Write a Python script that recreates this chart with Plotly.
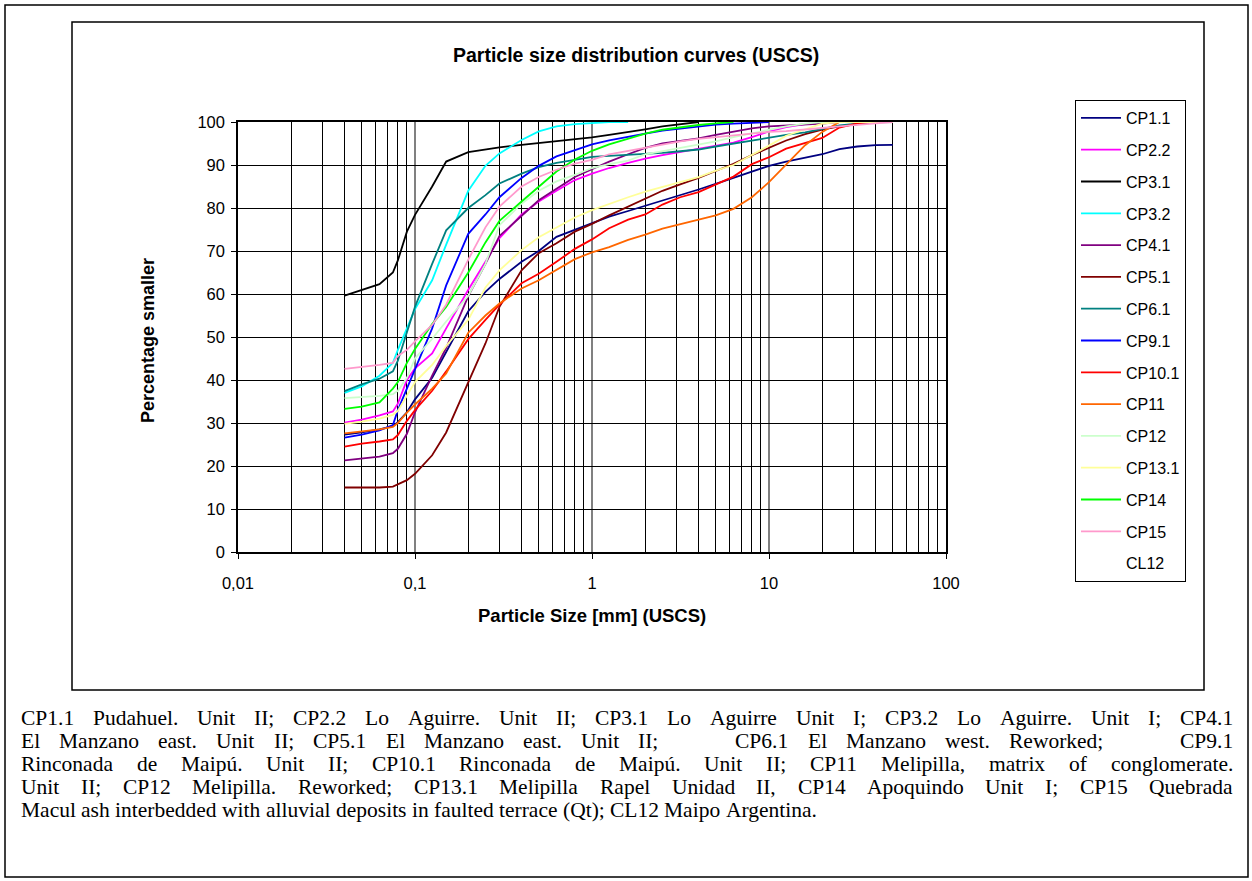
import plotly.graph_objects as go

# ---------------- data ----------------
sizes_mm = [0.04, 0.05, 0.063, 0.075, 0.08, 0.09, 0.1, 0.125, 0.15, 0.2, 0.25, 0.3, 0.4, 0.5,
            0.63, 0.8, 1, 1.25, 1.6, 2, 2.5, 3.15, 4, 5, 6.3, 8, 10, 12.5, 16, 20, 25, 31.5, 40, 50]

N = None
CP1_1 = [27.3, 27.8, 28.5, 29.3, 30.2, 32.5, 35.5, 40.5, 46.5, 56, 60.5, 63.5, 67.5, 70, 73.3, 75, 76.5,
         78, 79.3, 80.5, 81.6, 83, 84.3, 85.6, 87, 88.6, 89.8, 90.8, 91.7, 92.5, 93.7, 94.3, 94.6, 94.7]
CP2_2 = [30.1, 30.8, 31.8, 32.7, 34.5, 40, 42.7, 46.2, 52, 61, 67.5, 73, 78.5, 81.5, 84, 86.5, 88,
         89.3, 90.5, 91.5, 92.3, 93, 93.8, 94.5, 95.2, 96.5, 97.8, 98.8, 99.5, 99.9, 100, N, N, N]
CP3_1 = [59.6, 61, 62.3, 65, 67.8, 74.5, 78.4, 85, 90.8, 93, 93.7, 94.1, 94.7, 95.1, 95.4, 95.9, 96.4,
         97, 97.6, 98.3, 99, 99.5, 100, N, N, N, N, N, N, N, N, N, N, N]
CP3_2 = [37, 38.5, 41, 44, 47, 52, 56.5, 63.2, 71.5, 84, 89.8, 92.7, 95.8, 97.8, 99, 99.5, 99.8,
         100, 100, N, N, N, N, N, N, N, N, N, N, N, N, N, N, N]
CP4_1 = [21.3, 21.8, 22.2, 23, 24, 27.5, 32.5, 41, 47.5, 59.5, 67, 73.5, 78.3, 81.8, 84.5, 87.2, 89,
         90.8, 92.5, 94, 95, 95.6, 96.2, 97, 97.8, 98.5, 99, 99.2, 99.3, 99.6, 100, N, N, N]
CP5_1 = [15, 15, 15, 15.2, 15.7, 16.7, 18.2, 22.5, 27.8, 39.5, 48.5, 57, 65.5, 69.5, 71.8, 74.5, 76.3,
         78.3, 80.3, 82.2, 84, 85.5, 87, 88.6, 90.3, 92.3, 94, 95.7, 97.2, 98.2, 99, 99.5, 100, N]
CP6_1 = [37.4, 39, 40.3, 42, 44.5, 51, 57, 67, 74.8, 80, 83, 85.7, 88, 89.5, 90.5, 91.2, 91.9,
         92.1, 92.3, 92.5, 92.8, 93.2, 93.6, 94.3, 95, 95.8, 96.4, 97, 97.6, 98.4, 99.2, 99.6, 99.9, 100]
CP9_1 = [26.6, 27.3, 28.3, 29.5, 33, 38, 42.3, 52, 62, 74, 78.5, 82.5, 87, 89.8, 92, 93.5, 94.8,
         95.7, 96.6, 97.3, 98, 98.5, 99, 99.4, 99.6, 99.8, 100, N, N, N, N, N, N, N]
CP10_1 = [24.5, 25.2, 25.7, 26.2, 27.2, 30.5, 33, 37.5, 42, 49.5, 54, 57.5, 62.5, 64.7, 67.5, 70.5, 72.7,
          75.3, 77.3, 78.5, 80.8, 82.5, 83.7, 85.5, 87.3, 90.2, 91.8, 93.8, 95.2, 96.3, 98.7, 99.7, 100, N]
CP11 = [27.6, 28, 28.5, 29.1, 30, 32.4, 34.3, 38, 41.5, 51, 55, 57.8, 61.3, 63.2, 65.7, 68.1, 69.7,
        70.9, 72.6, 73.8, 75.2, 76.2, 77.3, 78.3, 79.8, 82.5, 86, 90, 94.6, 97.7, 100, N, N, N]
CP12 = [35.8, 36, 36.3, 36.7, 37.5, 40.5, 45, 49.6, 53.6, 59.6, 67, 76, 81, 84, 86.2, 87.7, 89.3,
        90.2, 91, 92.5, 93.2, 94, 94.8, 95.5, 96.5, 97.4, 98.2, 99, 99.6, 100, 100, 100, 100, 100]
CP13_1 = [29.8, 30.3, 31, 31.9, 32.8, 36.5, 39.5, 43.5, 47.9, 54, 61.5, 65.5, 70.2, 73.2, 75.5, 77.8, 79.5,
          81, 82.5, 83.8, 84.8, 86, 87.2, 88.7, 90, 92.3, 94.5, 96.8, 98.3, 99.6, 100, 100, 100, 100]
CP14 = [33.3, 33.8, 34.8, 38, 39.5, 44, 47.2, 53, 57, 65, 72, 77, 81.5, 85, 88.5, 91.3, 93.3,
        94.8, 96.2, 97.3, 98.2, 98.8, 99.3, 99.7, 100, N, N, N, N, N, N, N, N, N]
CP15 = [42.6, 43, 43.5, 44, 45.6, 47, 49, 52.8, 57.5, 68, 75.5, 80.3, 85, 87.2, 88.9, 90.3, 91.2,
        92.5, 93.3, 94.1, 94.8, 95.5, 96.1, 96.5, 96.9, 97.4, 97.7, 97.9, 98.2, 98.6, 99, 99.4, 99.7, 100]
CL12 = [N] * len(sizes_mm)

series_names = ["CP1.1", "CP2.2", "CP3.1", "CP3.2", "CP4.1", "CP5.1", "CP6.1", "CP9.1",
                "CP10.1", "CP11", "CP12", "CP13.1", "CP14", "CP15", "CL12"]
series_values = [CP1_1, CP2_2, CP3_1, CP3_2, CP4_1, CP5_1, CP6_1, CP9_1,
                 CP10_1, CP11, CP12, CP13_1, CP14, CP15, CL12]
series_colors = ["#000080", "#FF00FF", "#000000", "#00FFFF", "#800080", "#800000", "#008080",
                 "#0000FF", "#FF0000", "#FF6600", "#CCFFCC", "#FFFF99", "#00FF00", "#FF99CC",
                 "rgba(0,0,0,0)"]

x_tick_vals = [0.01, 0.1, 1, 10, 100]
x_tick_text = ["0,01", "0,1", "1", "10", "100"]

caption_lines = [
    "CP1.1 Pudahuel. Unit II; CP2.2 Lo Aguirre. Unit II; CP3.1 Lo Aguirre Unit I; CP3.2 Lo Aguirre. Unit I; CP4.1",
    "El Manzano east. Unit II; CP5.1 El Manzano east. Unit II;    CP6.1 El Manzano west. Reworked;    CP9.1",
    "Rinconada de Maipú. Unit II; CP10.1 Rinconada de Maipú. Unit II; CP11 Melipilla, matrix of conglomerate.",
    "Unit II; CP12 Melipilla. Reworked; CP13.1 Melipilla Rapel Unidad II, CP14 Apoquindo Unit I; CP15 Quebrada",
    "Macul ash interbedded with alluvial deposits in faulted terrace (Qt); CL12 Maipo Argentina.",
]

# ---------------- layout helpers ----------------
W, H = 1252, 881
PX0, PX1 = 238, 946      # plot area left / right (pixels)
PY0, PY1 = 122, 552      # plot area top / bottom (pixels)


def xp(px):
    return (px - PX0) / (PX1 - PX0)


def yp(py):
    return (PY1 - py) / (PY1 - PY0)


SANS = "Liberation Sans, Arial, sans-serif"
SERIF = "Liberation Serif, Times New Roman, serif"

fig = go.Figure()
for name, vals, col in zip(series_names, series_values, series_colors):
    xs = [s for s, v in zip(sizes_mm, vals) if v is not None]
    ys = [v for v in vals if v is not None]
    if not xs:
        xs, ys = [None], [None]
    fig.add_trace(go.Scatter(x=xs, y=ys, mode="lines", name=name, legendgroup=name,
                             line=dict(color=col, width=1.8), hoverinfo="skip"))

fig.update_layout(
    width=W, height=H,
    margin=dict(l=PX0, r=W - PX1, t=PY0, b=H - PY1, pad=0),
    paper_bgcolor="white", plot_bgcolor="white",
    showlegend=True,
    legend=dict(x=xp(1075), y=yp(100), xanchor="left", yanchor="top",
                bordercolor="black", borderwidth=1, bgcolor="white",
                font=dict(family=SANS, size=16, color="black"),
                tracegroupgap=8, itemwidth=40, maxheight=700),
    xaxis=dict(type="log", range=[-2, 2], tickvals=x_tick_vals, ticktext=x_tick_text,
               showgrid=True, gridcolor="#808080", gridwidth=2,
               minor=dict(dtick="D1", showgrid=True, gridcolor="black", gridwidth=1),
               showline=True, linecolor="black", linewidth=1.5, mirror=True,
               ticks="outside", ticklen=5, tickcolor="black",
               tickfont=dict(family=SANS, size=16.5, color="black"),
               ticklabelstandoff=10, zeroline=False),
    yaxis=dict(range=[0, 100], dtick=10, showgrid=True, gridcolor="black", gridwidth=1,
               showline=True, linecolor="black", linewidth=1.5, mirror=True,
               ticks="outside", ticklen=5, tickcolor="black",
               tickfont=dict(family=SANS, size=16.5, color="black"),
               ticklabelstandoff=3, zeroline=False),
)

shapes = [
    dict(type="rect", xref="paper", yref="paper", x0=xp(5), x1=xp(1248), y0=yp(5), y1=yp(877),
         line=dict(color="black", width=1.5), layer="below"),
    dict(type="rect", xref="paper", yref="paper", x0=xp(72), x1=xp(1204), y0=yp(22), y1=yp(690),
         line=dict(color="black", width=1.5), layer="below"),
]
fig.update_layout(shapes=shapes)

ann = []
ann.append(dict(text="<b>Particle size distribution curves (USCS)</b>", x=xp(636), y=yp(55),
                xref="paper", yref="paper", showarrow=False, xanchor="center", yanchor="middle",
                font=dict(family=SANS, size=19.5, color="black")))
ann.append(dict(text="<b>Particle Size [mm] (USCS)</b>", x=xp(592), y=yp(615),
                xref="paper", yref="paper", showarrow=False, xanchor="center", yanchor="middle",
                font=dict(family=SANS, size=18.5, color="black")))
ann.append(dict(text="<b>Percentage smaller</b>", x=xp(148), y=yp(341), textangle=-90,
                xref="paper", yref="paper", showarrow=False, xanchor="center", yanchor="middle",
                font=dict(family=SANS, size=18, color="black")))

# --- justified caption (Times metrics approximation) ---
AFM = {' ': 250, '(': 333, ')': 333, ',': 250, '.': 250, ';': 278, ':': 278,
       'A': 722, 'C': 667, 'E': 611, 'I': 333, 'L': 611, 'M': 889, 'P': 556, 'Q': 722, 'R': 667,
       'U': 722,
       'a': 444, 'b': 500, 'c': 444, 'd': 500, 'e': 444, 'f': 333, 'g': 500, 'h': 500, 'i': 278,
       'j': 278, 'k': 500, 'l': 278, 'm': 778, 'n': 500, 'o': 500, 'p': 500, 'q': 500, 'r': 333,
       's': 389, 't': 278, 'u': 500, 'v': 500, 'w': 722, 'x': 500, 'y': 500, 'z': 444, 'ú': 500}
CAP_SIZE = 21.5
CAP_LEFT, CAP_RIGHT = 20, 1232
CAP_TOP, CAP_STEP = 718, 23


def tw(s):
    return sum(AFM.get(c, 500) for c in s) * CAP_SIZE / 1000.0


for i, line in enumerate(caption_lines):
    cy = CAP_TOP + CAP_STEP * i
    tokens = line.split(" ")
    widths = [tw(t) for t in tokens]
    ngaps = len(tokens) - 1
    if i < len(caption_lines) - 1:
        gap = (CAP_RIGHT - CAP_LEFT - sum(widths)) / ngaps
    else:
        gap = tw(" ")
    x = CAP_LEFT
    for t, w in zip(tokens, widths):
        if t:
            ann.append(dict(text=t, x=xp(x), y=yp(cy), xref="paper", yref="paper",
                            showarrow=False, xanchor="left", yanchor="middle", borderpad=0,
                            font=dict(family=SERIF, size=CAP_SIZE, color="black")))
        x += w + gap

fig.update_layout(annotations=ann)

fig.write_html("out.html")
